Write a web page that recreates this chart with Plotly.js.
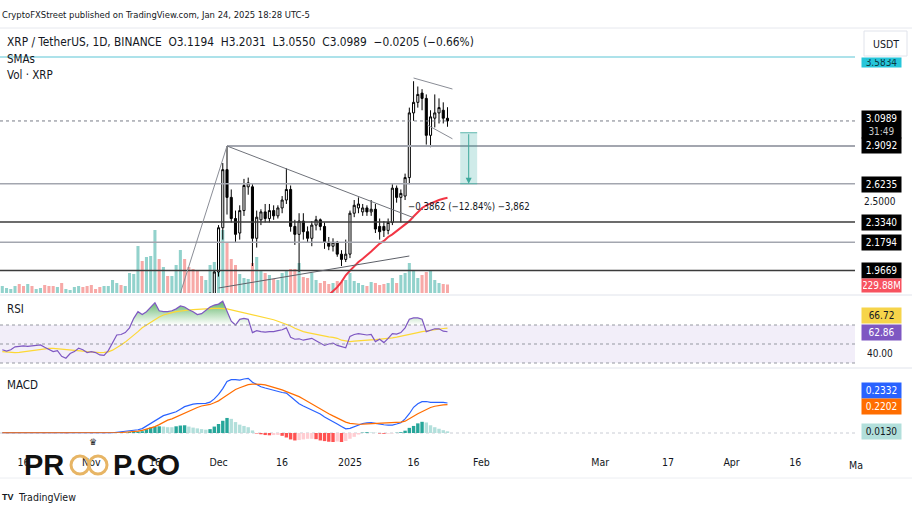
<!DOCTYPE html>
<html><head><meta charset="utf-8">
<script src="https://cdn.plot.ly/plotly-3.0.1.min.js"></script>
<style>html,body{margin:0;padding:0;background:#fff;overflow:hidden}#chart{width:912px;height:513px}</style>
</head><body><div id="chart"></div>
<script>
// ---------- DATA ----------
const firstDay = '2024-10-11';           // first daily bar (volume / RSI / MACD)
const nDays = 106;                        // Oct 11, 2024 .. Jan 24, 2025
const candleStart = 49;                   // index of first visible candle (Nov 29)

const candleOpen  = [1.58,1.76,1.955,2.29,2.73,2.52,2.36,2.25,2.42,2.60,2.60,2.21,2.35,2.41,2.36,2.42,2.38,2.44,2.50,2.58,2.30,2.24,2.34,2.26,2.21,2.31,2.35,2.30,2.18,2.15,2.18,2.09,2.05,2.09,2.40,2.44,2.41,2.44,2.41,2.43,2.30,2.30,2.27,2.33,2.59,2.52,2.53,2.67,3.16,3.24,3.31,3.27,2.99,3.12,3.16,3.18,3.1194];
const candleHigh  = [1.80,1.97,2.31,2.78,2.9092,2.58,2.42,2.46,2.66,2.67,2.62,2.42,2.43,2.47,2.47,2.46,2.46,2.53,2.74,2.61,2.35,2.40,2.40,2.30,2.34,2.38,2.36,2.33,2.22,2.21,2.19,2.12,2.20,2.42,2.50,2.52,2.47,2.46,2.50,2.47,2.36,2.34,2.36,2.62,2.61,2.58,2.70,3.20,3.40,3.36,3.34,3.30,3.18,3.30,3.27,3.24,3.2031];
const candleLow   = [1.55,1.72,1.92,2.20,2.39,2.33,2.18,2.20,2.38,2.54,2.00,2.14,2.31,2.33,2.33,2.35,2.36,2.40,2.47,2.26,2.16,1.955,2.20,2.18,2.15,2.27,2.27,2.13,2.12,2.11,2.07,2.00,2.03,2.06,2.37,2.40,2.38,2.38,2.38,2.25,2.20,2.22,2.24,2.31,2.48,2.33,2.50,2.62,3.10,3.20,3.18,2.92,2.90,3.05,3.08,3.08,3.0550];
const candleClose = [1.76,1.955,2.29,2.73,2.52,2.36,2.24,2.42,2.61,2.63,2.21,2.37,2.41,2.36,2.42,2.38,2.44,2.50,2.58,2.30,2.24,2.34,2.26,2.21,2.31,2.35,2.30,2.18,2.15,2.18,2.09,2.05,2.09,2.40,2.46,2.47,2.44,2.41,2.43,2.28,2.26,2.27,2.33,2.59,2.52,2.55,2.67,3.16,3.24,3.30,3.27,2.99,3.13,3.16,3.20,3.12,3.0989];

const volumeM = [189,135,108,189,243,189,243,189,108,135,216,189,189,162,270,108,81,162,189,162,189,216,108,162,189,189,351,270,216,189,540,513,1269,864,972,999,1701,918,702,459,459,756,1161,918,702,648,594,459,351,756,837,1215,1701,1377,918,756,513,405,378,810,972,594,540,486,378,351,540,594,648,648,810,432,405,540,351,270,324,243,270,324,297,351,540,324,270,216,189,297,270,216,243,270,405,270,486,540,810,621,405,486,567,621,351,270,243,229.88];
const volDirEarly = [1,1,1,1,-1,-1,1,-1,1,1,-1,-1,-1,1,-1,1,1,1,1,-1,-1,-1,-1,-1,1,1,1,1,-1,1,1,1,1,-1,1,1,1,-1,1,-1,1,1,1,-1,-1,-1,-1,-1,1];

const smaStart = '2024-12-27';
const smaValues = [1.78,1.81,1.84,1.88,1.93,1.965,2.00,2.03,2.055,2.08,2.11,2.14,2.17,2.19,2.22,2.24,2.265,2.29,2.31,2.34,2.375,2.41,2.44,2.46,2.475,2.49,2.50,2.51,2.517];

const rsi = [44,42.5,44,47,47.5,48,47.5,48,48.5,49,46.5,44.5,42,43,37,35,40,42,45.5,44,41,42,41,38.5,38,43,52,59.5,60,62,67,77,84,81,84,89,93.5,85,84,84,85,87,90,89,86,84,81,82,86,89,91,92,95,85,74,70,76,77,76,62,64,63,62.5,63,63,64,65,67,57,55,55.5,54,55,56,53.5,51,48.5,50,51,48.5,47,46,58,60,61,60,59.5,60,52.5,55,51.5,56,61,60.5,62,67,76,77.5,77.5,76,63,64.5,66,66,63.5,62.86];
const rsiMA = [42,41.5,41,40.9,41.2,41.8,42.5,43.2,44,44.8,45.2,45.4,45.3,45,44.6,44.2,43.9,43.6,43.2,42.6,42,41.5,41.2,41,41.2,41.8,43.5,46,49,52,55.5,59,63,67,70,73,76,78.5,80.5,82,83,84,84.8,85.5,85.8,86.2,86.6,87,87.3,87.5,87.5,87.5,87.5,87,86,85,84,83,82,81,80,79,78,77,75.5,74,72.5,71,69,66.5,64.5,63,62,61,60,59.5,58.5,57.5,57,56,54,53,52.6,53,53.5,53.8,54,54.3,54.6,55,55.2,55.8,56.5,57.2,58,59,60,61,62,63,63.8,64.5,65.1,65.8,66.3,66.72];

const macd = [.002,.002,.003,.003,.003,.003,.003,.003,.003,.003,.002,.002,.001,.001,0,-.001,-.001,0,0,0,0,-.001,-.001,-.001,-.002,-.001,.002,.006,.010,.012,.015,.018,.025,.034,.055,.075,.095,.115,.135,.145,.155,.165,.185,.205,.215,.225,.228,.228,.230,.240,.265,.300,.345,.400,.415,.415,.412,.420,.425,.395,.375,.360,.350,.340,.330,.325,.315,.310,.280,.255,.228,.210,.195,.180,.165,.148,.125,.108,.090,.070,.050,.032,.036,.050,.062,.074,.078,.080,.075,.068,.064,.061,.062,.070,.080,.110,.150,.200,.228,.244,.245,.238,.240,.241,.238,.2332];
const signal = [.002,.002,.002,.002,.003,.003,.003,.003,.003,.003,.003,.002,.002,.002,.001,.001,0,0,0,0,0,0,0,-.001,-.001,-.001,0,.001,.004,.006,.008,.010,.014,.020,.028,.036,.050,.065,.085,.100,.110,.125,.140,.155,.172,.185,.198,.210,.216,.222,.235,.250,.272,.295,.318,.338,.352,.365,.376,.380,.380,.378,.374,.365,.355,.345,.335,.322,.310,.297,.283,.265,.245,.225,.205,.187,.168,.150,.133,.115,.098,.085,.075,.070,.068,.069,.071,.073,.075,.077,.078,.079,.080,.082,.085,.092,.108,.130,.150,.168,.185,.198,.208,.215,.218,.2202];
const hist = [0,0,.001,.001,0,0,0,0,0,0,-.001,0,-.001,-.001,-.001,-.002,-.001,0,0,0,0,-.001,-.001,0,-.001,0,.002,.005,.006,.006,.007,.008,.011,.014,.030,.042,.048,.052,.050,.045,.045,.052,.058,.060,.050,.042,.036,.030,.026,.030,.050,.070,.095,.117,.110,.085,.065,.055,.045,.020,-.004,-.010,-.016,-.018,-.016,-.015,-.022,-.035,-.050,-.058,-.055,-.050,-.045,-.045,-.048,-.058,-.063,-.068,-.070,-.066,-.070,-.062,-.045,-.030,-.012,.003,.006,.004,.002,-.004,-.006,-.005,-.003,.002,.006,.018,.040,.055,.075,.087,.082,.060,.045,.033,.022,.013];

const levels = [2.9092, 2.6235, 2.3340, 2.1794, 1.9669];
const lastPrice = 3.0989;
const cyanLevel = 3.5834;
const tickDates = ['2024-10-16','2024-11-01','2024-11-16','2024-12-01','2024-12-16','2025-01-01','2025-01-16','2025-02-01','2025-03-01','2025-03-17','2025-04-01','2025-04-16'];
const tickText  = ['16','Nov','16','Dec','16','2025','16','Feb','Mar','17','Apr','16'];
const measure = {from:3.0097, to:2.6235, label:'\u22120.3862 (\u221212.84%) \u22123,862'};

// ---------- HELPERS ----------
const DAYMS = 864e5;
const t0 = Date.parse(firstDay + 'T00:00:00Z');
const dayStr = i => new Date(t0 + i*DAYMS).toISOString().slice(0,10);
const days = Array.from({length:nDays}, (_,i) => dayStr(i));
const candleDays = days.slice(candleStart);
const smaT0 = Date.parse(smaStart + 'T00:00:00Z');
const smaDays = smaValues.map((_,i) => new Date(smaT0 + i*DAYMS).toISOString().slice(0,10));

const F = '"Liberation Sans Narrow","Arial Narrow","DejaVu Sans Condensed",sans-serif';
const PW = 855, H = 513;
const px = v => v / PW, py = v => 1 - v / H;

const TEAL_V = 'rgba(38,166,154,0.5)', RED_V = 'rgba(239,83,80,0.5)';
const volColors = volumeM.map((v,i) => {
  if (i < candleStart) return volDirEarly[i] > 0 ? TEAL_V : RED_V;
  const k = i - candleStart;
  return candleClose[k] >= candleOpen[k] ? TEAL_V : RED_V;
});
const histColors = hist.map((h,i) => {
  const p = i ? hist[i-1] : 0;
  if (h >= 0) return h > p ? '#26a69a' : '#b2dfdb';
  return h < p ? '#ff5252' : '#ffcdd2';
});

// ---------- TRACES ----------
const traces = [
  {type:'bar', x:days, y:volumeM, yaxis:'y', marker:{color:volColors, line:{width:0}}, width:0.72*DAYMS, hoverinfo:'skip'},
  {type:'candlestick', x:candleDays, open:candleOpen, high:candleHigh, low:candleLow, close:candleClose, yaxis:'y2',
   increasing:{line:{color:'#000', width:1}, fillcolor:'#ffffff'},
   decreasing:{line:{color:'#000', width:1}, fillcolor:'#000000'}, whiskerwidth:0, hoverinfo:'skip'},
  {type:'scatter', mode:'lines', x:smaDays, y:smaValues, yaxis:'y2', line:{color:'#f23645', width:2}, hoverinfo:'skip'},
  // RSI
  {type:'scatter', mode:'lines', x:days, y:days.map(()=>70), yaxis:'y3', line:{width:0}, hoverinfo:'skip'},
  {type:'scatter', mode:'lines', x:days, y:rsi.map(v=>Math.max(v,70)), yaxis:'y3', line:{width:0}, fill:'tonexty',
   fillgradient:{type:'vertical', start:70, stop:96, colorscale:[[0,'rgba(76,175,80,0)'],[1,'rgba(56,160,70,0.85)']]}, hoverinfo:'skip'},
  {type:'scatter', mode:'lines', x:days, y:rsiMA, yaxis:'y3', line:{color:'#fdd835', width:1.2}, hoverinfo:'skip'},
  {type:'scatter', mode:'lines', x:days, y:rsi, yaxis:'y3', line:{color:'#7e57c2', width:1.2}, hoverinfo:'skip'},
  // MACD
  {type:'bar', x:days, y:hist, yaxis:'y4', marker:{color:histColors, line:{width:0}}, width:0.8*DAYMS, hoverinfo:'skip'},
  {type:'scatter', mode:'lines', x:days, y:macd, yaxis:'y4', line:{color:'#2962ff', width:1.2}, hoverinfo:'skip'},
  {type:'scatter', mode:'lines', x:days, y:signal, yaxis:'y4', line:{color:'#ff6d00', width:1.2}, hoverinfo:'skip'}
];

// ---------- SHAPES ----------
const GREY = '#a3a6af', DARK = '#3b3b3b';
const levelStyle = [{c:GREY,w:2,from:'2024-12-03'},{c:GREY,w:1.5},{c:DARK,w:1.5},{c:GREY,w:1.5},{c:DARK,w:1.5}];
const shapes = [];
levels.forEach((p,i) => {
  const s = levelStyle[i];
  if (s.from) shapes.push({type:'line', xref:'x', yref:'y2', x0:s.from, x1:'2025-06-01', y0:p, y1:p, line:{color:s.c, width:s.w}, layer:'above'});
  else shapes.push({type:'line', xref:'paper', yref:'y2', x0:0, x1:1, y0:p, y1:p, line:{color:s.c, width:s.w}, layer:'above'});
});
shapes.push({type:'line', xref:'paper', yref:'y2', x0:0, x1:1, y0:lastPrice, y1:lastPrice, line:{color:'#787b86', width:1, dash:'dot'}, layer:'above'});
shapes.push({type:'line', xref:'paper', yref:'y2', x0:0, x1:1, y0:cyanLevel, y1:cyanLevel, line:{color:'#5cc6d6', width:1.2}, layer:'above'});
// trend drawings
const tl = (x0,y0,x1,y1,c,w) => shapes.push({type:'line', xref:'x', yref:'y2', x0, y0, x1, y1, line:{color:c, width:w||1}, layer:'above'});
tl('2024-11-22', 1.7956, '2024-12-03', 2.9092, '#8a8d96', 1);
tl('2024-12-03', 2.9092, '2025-01-16', 2.366, '#6f727a', 1);
tl('2024-12-01', 1.8334, '2025-01-15', 2.0759, '#5d6068', 1);
tl('2025-01-16', 3.4244, '2025-01-25 04:00', 3.341, '#8a8d96', 1);
tl('2025-01-19 06:00', 3.0683, '2025-01-25 04:00', 2.9637, '#8a8d96', 1);
// measure box
shapes.push({type:'rect', xref:'x', yref:'y2', x0:'2025-01-27', x1:'2025-01-31', y0:measure.to, y1:measure.from, fillcolor:'rgba(38,166,154,0.22)', line:{width:0}, layer:'above'});
shapes.push({type:'line', xref:'x', yref:'y2', x0:'2025-01-27', x1:'2025-01-31', y0:measure.from, y1:measure.from, line:{color:'#5fb8ad', width:1}, layer:'above'});
shapes.push({type:'line', xref:'x', yref:'y2', x0:'2025-01-27', x1:'2025-01-31', y0:measure.to, y1:measure.to, line:{color:'#5fb8ad', width:1}, layer:'above'});
// RSI band + lines
shapes.push({type:'rect', xref:'paper', yref:'y3', x0:0, x1:1, y0:30, y1:70, fillcolor:'rgba(126,87,194,0.10)', line:{width:0}, layer:'below'});
[70,50,30].forEach(v => shapes.push({type:'line', xref:'paper', yref:'y3', x0:0, x1:1, y0:v, y1:v, line:{color:'#9598a1', width:1, dash:'3px,3px'}, layer:'above'}));
shapes.push({type:'line', xref:'paper', yref:'y4', x0:0, x1:1, y0:0, y1:0, line:{color:'#c9ccd4', width:1, dash:'3px,3px'}, layer:'below'});
// pane separators / frame lines
[[28,'#e6e8ee'],[295,'#e0e3eb'],[368,'#e0e3eb'],[478,'#eceef2']].forEach(([y,c]) =>
  shapes.push({type:'line', xref:'paper', yref:'paper', x0:0, x1:912/PW, y0:py(y), y1:py(y), line:{color:c, width:1}}));
// USDT button
shapes.push({type:'rect', xref:'paper', yref:'paper', x0:px(864), x1:px(907), y0:py(56), y1:py(31), line:{color:'#e0e3eb', width:1}, fillcolor:'#fff'});
// watermark owl eyes
shapes.push({type:'circle', xref:'paper', yref:'paper', x0:px(71), x1:px(89), y0:py(474), y1:py(456), line:{color:'#e7b565', width:3}});
shapes.push({type:'circle', xref:'paper', yref:'paper', x0:px(89), x1:px(107), y0:py(474), y1:py(456), line:{color:'#e7b565', width:3}});

// ---------- ANNOTATIONS ----------
const txt = (x,y,text,o={}) => Object.assign({xref:'paper', yref:'paper', x:px(x), y:py(y), text, showarrow:false, xanchor:'left', yanchor:'middle',
  font:{family:F, size:11.5, color:'#131722'}}, o);
const tag = (y,text,bg,fg,h) => ({xref:'paper', yref:'paper', x:px(861), y:py(y), xanchor:'left', yanchor:'middle', text, showarrow:false,
  bgcolor:bg, font:{family:F, size:10, color:fg}, width:37, height:h||13, borderpad:1, align:'center'});
const annotations = [
  txt(0,15,'CryptoFXStreet published on TradingView.com, Jan 24, 2025 18:28 UTC-5',{font:{family:F,size:9.4,color:'#131722'}}),
  txt(5,42,'XRP / TetherUS, 1D, BINANCE&nbsp;&nbsp;O3.1194&nbsp;&nbsp;H3.2031&nbsp;&nbsp;L3.0550&nbsp;&nbsp;C3.0989&nbsp;&nbsp;\u22120.0205 (\u22120.66%)',{font:{family:F,size:11.8,color:'#131722'}}),
  txt(5,59,'SMAs'),
  txt(5,75,'Vol \u00b7 XRP'),
  txt(5,309,'RSI'),
  txt(5,385,'MACD'),
  txt(886,44,'USDT',{xanchor:'center', font:{family:F,size:10.5,color:'#131722'}}),
  tag(62,'3.5834','#26c6da','#0b3b44',7),
  tag(124,'3.0989<br><span style="color:#c8c8c8">31:49</span>','#000','#fff',25),
  tag(145,'2.9092','#000','#fff'),
  tag(184,'2.6235','#000','#fff'),
  txt(880,201,'2.5000',{xanchor:'center', font:{family:F,size:10,color:'#131722'}}),
  tag(222,'2.3340','#000','#fff'),
  tag(242,'2.1794','#000','#fff'),
  tag(270,'1.9669','#000','#fff'),
  tag(285,'229.88M','#f7525f','#fff',11),
  tag(315,'66.72','#f6d44a','#131722'),
  tag(332,'62.86','#7e57c2','#fff'),
  txt(880,353,'40.00',{xanchor:'center', font:{family:F,size:10,color:'#131722'}}),
  tag(390,'0.2332','#2962ff','#fff'),
  tag(406,'0.2202','#ff6d00','#fff'),
  tag(431,'0.0130','#b2dfdb','#131722'),
  txt(856,465,'Ma',{xanchor:'center', font:{family:F,size:10.5,color:'#131722'}}),
  // measure label + arrow
  {xref:'x', yref:'y2', x:'2025-01-29', y:2.4547, text:measure.label, showarrow:false, font:{family:F, size:9.6, color:'#131722'}},
  {xref:'x', yref:'y2', x:'2025-01-29', y:measure.to, axref:'x', ayref:'y2', ax:'2025-01-29', ay:measure.from, text:'', showarrow:true,
   arrowhead:2, arrowsize:1.2, arrowwidth:1, arrowcolor:'#3ea99c'},
  // watermark + footer
  txt(22,465,'<b>PR</b>',{font:{family:'Liberation Sans, Arial, sans-serif', size:29, color:'#111'}}),
  txt(111,465,'<b>P.CO</b>',{font:{family:'Liberation Sans, Arial, sans-serif', size:29, color:'#111'}}),
  txt(93,442,'\u265B',{xanchor:'center', font:{family:'DejaVu Sans', size:9, color:'#222'}}),
  txt(0,497,'<b>TV</b>',{font:{family:'Liberation Sans, Arial', size:9, color:'#131722'}}),
  txt(16,497,'TradingView',{font:{family:F, size:10.5, color:'#131722'}})
];

// ---------- LAYOUT ----------
const hidden = {visible:false, showgrid:false, zeroline:false, fixedrange:true};
const layout = {
  width:912, height:513, margin:{l:0, r:57, t:0, b:0}, paper_bgcolor:'#fff', plot_bgcolor:'#fff',
  showlegend:false, hovermode:false, dragmode:false,
  xaxis:{type:'date', anchor:'y4', range:['2024-10-10 11:00','2025-04-30 02:40'], tickvals:tickDates, ticktext:tickText,
    showgrid:false, zeroline:false, showline:false, ticks:'', ticklabelstandoff:8,
    tickfont:{family:F, size:10.5, color:'#131722'}, rangeslider:{visible:false}, fixedrange:true},
  yaxis: Object.assign({domain:[py(293), py(29)], range:[0, 7128], anchor:'x'}, hidden),
  yaxis2:Object.assign({overlaying:'y', range:[1.7956, 3.7956], anchor:'x'}, hidden),
  yaxis3:Object.assign({domain:[py(367), py(296)], range:[25.79, 100.53], anchor:'x'}, hidden),
  yaxis4:Object.assign({domain:[py(446), py(369)], range:[-0.1011, 0.4977], anchor:'x'}, hidden),
  shapes, annotations
};
Plotly.newPlot('chart', traces, layout, {staticPlot:true, displayModeBar:false});
</script></body></html>
